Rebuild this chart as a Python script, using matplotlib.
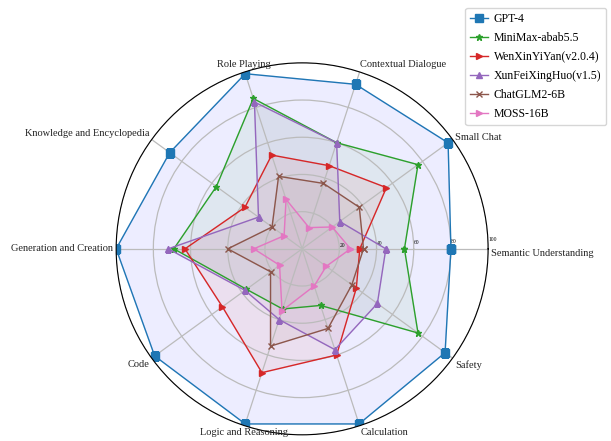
import matplotlib
matplotlib.use("Agg")
import matplotlib.pyplot as plt
import numpy as np

plt.rcParams['font.family'] = ['Liberation Serif', 'DejaVu Serif']

categories = ['Semantic Understanding', 'Small Chat', 'Contextual Dialogue', 'Role Playing',
              'Knowledge and Encyclopedia', 'Generation and Creation', 'Code',
              'Logic and Reasoning', 'Calculation', 'Safety']

gpt4 = [80, 97, 93, 99, 88, 100, 98, 99, 99, 95]
minimax = [55, 77, 60, 85, 57, 69, 37, 34, 32, 77]
wenxin = [31, 56, 47, 53, 38, 63, 53, 70, 60, 36]
xunfei = [45, 25, 60, 83, 29, 72, 38, 40, 57, 50]
chatglm = [33, 38, 37, 41, 20, 40, 21, 55, 45, 33]
moss = [26, 20, 12, 28, 12, 26, 15, 35, 21, 16]

# name, values, line colour, fill colour, marker
series = [
    ('GPT-4', gpt4, 'tab:blue', 'blue', 's'),
    ('MiniMax-abab5.5', minimax, 'tab:green', 'tab:green', '*'),
    ('WenXinYiYan(v2.0.4)', wenxin, 'tab:red', 'tab:red', '>'),
    ('XunFeiXingHuo(v1.5)', xunfei, 'tab:purple', 'tab:purple', '^'),
    ('ChatGLM2-6B', chatglm, 'tab:brown', 'tab:brown', 'x'),
    ('MOSS-16B', moss, 'tab:pink', 'tab:pink', '>'),
]

# label alignment around the circle
label_ha = ['left', 'left', 'left', 'center', 'right', 'right', 'right', 'center', 'left', 'left']
label_va = ['top', 'center', 'bottom', 'bottom', 'bottom', 'center', 'top', 'top', 'top', 'top']

angles = np.linspace(0, 2 * np.pi, len(categories), endpoint=False)
angles_closed = np.concatenate([angles, angles[:1]])

fig = plt.figure(figsize=(6.11, 4.41), dpi=100)
ax = fig.add_axes([0.19, 0.014, 0.609, 0.8435], polar=True)

for name, vals, color, fcolor, marker in series:
    v = np.concatenate([vals, vals[:1]])
    ms = 5.5 if marker == 's' else 5
    ax.plot(angles_closed, v, color=color, marker=marker, markersize=ms, linewidth=1, label=name)
    ax.fill(angles_closed, v, color=fcolor, alpha=0.07)

ax.set_ylim(0, 100)
ax.set_yticks([20, 40, 60, 80, 100])
ax.set_yticklabels(['20', '40', '60', '80', '100'], fontsize=4)
ax.set_rlabel_position(2)
ax.set_xticks(angles)
ax.set_xticklabels([])
ax.grid(color='#bbbbbb', linewidth=0.9)
ax.spines['polar'].set_color('black')

for ang, lab, ha, va in zip(angles, categories, label_ha, label_va):
    ax.text(ang, 101.5, lab, ha=ha, va=va, fontsize=7.5, color='#222222', clip_on=False)

ax.legend(loc='upper left', bbox_to_anchor=(0.752, 0.995), bbox_transform=fig.transFigure,
          fontsize=8.5, frameon=True, handlelength=1.5, handletextpad=0.5, borderpad=0.4,
          labelspacing=0.6)

fig.savefig('out.png', dpi=100)
